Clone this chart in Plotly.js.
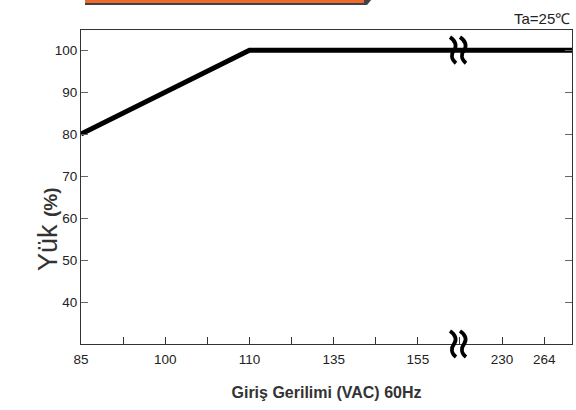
<!DOCTYPE html>
<html>
<head>
<meta charset="utf-8">
<script src="https://cdn.plot.ly/plotly-3.0.1.min.js"></script>
<style>html,body{margin:0;padding:0;background:#fff;}#chart{width:576px;height:410px;}</style>
</head>
<body>
<div id="chart"></div>
<script>
// Tick labels of the (broken) voltage axis, with their evenly spaced slot positions
const tickVoltages = [85, 100, 110, 135, 155, 230, 264];
const tickSlots    = [0, 2, 4, 6, 8, 10, 11];
// Derating curve
const inputVoltage = [85, 110, 264];
const loadPercent  = [80, 100, 100];
const yTicks = [40, 50, 60, 70, 80, 90, 100];

const xMax = 11.66;

function slotOf(v) {
  for (let i = 0; i < tickVoltages.length - 1; i++) {
    const a = tickVoltages[i], b = tickVoltages[i + 1];
    if (v >= a && v <= b) return tickSlots[i] + (v - a) / (b - a) * (tickSlots[i + 1] - tickSlots[i]);
  }
  return tickSlots[tickSlots.length - 1];
}

const xs = inputVoltage.map(slotOf);
const ys = loadPercent.slice();
// curve continues flat to the right edge of the frame
xs.push(xMax); ys.push(loadPercent[loadPercent.length - 1]);

const tickvals = [], ticktext = [];
for (let s = 0; s <= 11; s++) {
  tickvals.push(s);
  const k = tickSlots.indexOf(s);
  ticktext.push(k >= 0 ? String(tickVoltages[k]) : '');
}

const breakPath = 'M -10,13 C -4,9 -3,4 -6,0 C -9,-4 -9,-9 -4,-13 M 0,13 C 6,9 7,4 4,0 C 1,-4 1,-9 6,-13';

const trace = {
  x: xs, y: ys, mode: 'lines', type: 'scatter',
  line: {color: '#000', width: 5}, hoverinfo: 'skip'
};

const font = {family: '"Liberation Sans", Arial, sans-serif', color: '#222', size: 13.5};

const layout = {
  width: 576, height: 410,
  margin: {l: 81, r: 4, t: 30, b: 66},
  paper_bgcolor: '#fff', plot_bgcolor: '#fff',
  showlegend: false,
  font: font,
  xaxis: {
    range: [0, xMax], tickvals: tickvals, ticktext: ticktext,
    ticks: 'inside', ticklen: 7, tickcolor: '#333', tickwidth: 1,
    showline: true, linecolor: '#333', linewidth: 1, mirror: true,
    showgrid: false, zeroline: false, fixedrange: true,
    tickfont: font, ticklabelstandoff: 3,
    title: {text: '<b>Giriş Gerilimi (VAC) 60Hz</b>', font: {family: '"Liberation Sans", Arial, sans-serif', size: 16, color: '#333'}, standoff: 20}
  },
  yaxis: {
    range: [30, 104.8], tickvals: yTicks,
    ticks: 'inside', ticklen: 7, tickcolor: '#666', tickwidth: 1,
    showline: true, linecolor: '#333', linewidth: 1, mirror: 'ticks',
    showgrid: false, zeroline: false, fixedrange: true,
    tickfont: font
  },
  annotations: [
    {text: 'Yük <span style="font-size:19px;font-weight:bold">(%)</span>', textangle: -90,
     xref: 'paper', yref: 'paper', x: 0, y: 0.366, xshift: -50, showarrow: false,
     font: {family: '"Liberation Sans", Arial, sans-serif', size: 27, color: '#333'}},
    {text: 'Ta=25℃', xref: 'paper', yref: 'paper', x: 1, y: 1, xanchor: 'right', yanchor: 'bottom', yshift: 1,
     showarrow: false, font: {family: '"Liberation Sans", Arial, sans-serif', color: '#222', size: 15}}
  ],
  shapes: [
    // banner strip at the top
    {type: 'path', xref: 'paper', yref: 'paper', xsizemode: 'pixel', ysizemode: 'pixel', xanchor: 0, yanchor: 1,
     path: 'M 4,31 L 291,31 L 286,25 L 4,25 Z', fillcolor: '#3d4349', line: {width: 0}, layer: 'above'},
    {type: 'path', xref: 'paper', yref: 'paper', xsizemode: 'pixel', ysizemode: 'pixel', xanchor: 0, yanchor: 1,
     path: 'M 4,31 L 283,31 L 283,27 L 4,27 Z', fillcolor: '#ef6a2d', line: {width: 0}, layer: 'above'},
    // axis break marks
    {type: 'path', xref: 'x', yref: 'y', xsizemode: 'pixel', ysizemode: 'pixel', xanchor: 9, yanchor: 100,
     path: breakPath, line: {color: '#000', width: 3.8}, layer: 'above'},
    {type: 'path', xref: 'x', yref: 'paper', xsizemode: 'pixel', ysizemode: 'pixel', xanchor: 9, yanchor: 0,
     path: breakPath, line: {color: '#000', width: 3.8}, layer: 'above'}
  ]
};

Plotly.newPlot('chart', [trace], layout, {displayModeBar: false, staticPlot: true});
</script>
</body>
</html>
